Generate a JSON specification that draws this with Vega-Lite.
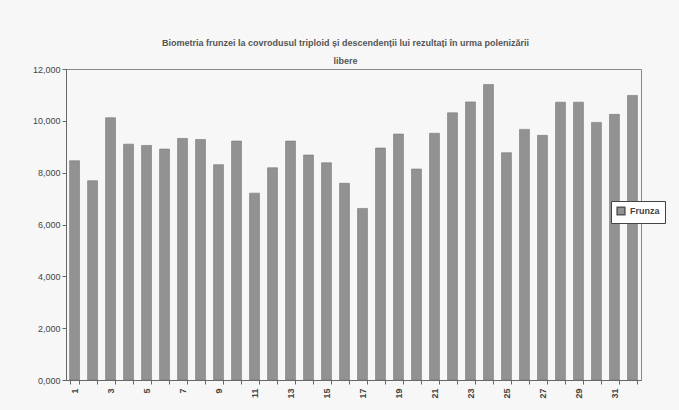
{
  "$schema": "https://vega.github.io/schema/vega-lite/v6.json",
  "autosize": {"type": "none"},
  "width": 575,
  "height": 311,
  "padding": {"left": 66, "top": 69, "right": 38, "bottom": 30},
  "background": "#f7f7f7",
  "title": {
    "text": ["Biometria frunzei la covrodusul triploid și descendenții lui rezultați în urma polenizării", "libere"],
    "fontSize": 9,
    "fontWeight": "bold",
    "font": "Liberation Sans",
    "color": "#555555",
    "anchor": "middle",
    "dx": -8,
    "offset": -1,
    "lineHeight": 18
  },
  "data": {
    "values": [
      {"n": 1, "v": 8.46}, {"n": 2, "v": 7.69}, {"n": 3, "v": 10.12}, {"n": 4, "v": 9.10},
      {"n": 5, "v": 9.05}, {"n": 6, "v": 8.91}, {"n": 7, "v": 9.32}, {"n": 8, "v": 9.28},
      {"n": 9, "v": 8.31}, {"n": 10, "v": 9.22}, {"n": 11, "v": 7.21}, {"n": 12, "v": 8.19},
      {"n": 13, "v": 9.22}, {"n": 14, "v": 8.68}, {"n": 15, "v": 8.38}, {"n": 16, "v": 7.59},
      {"n": 17, "v": 6.62}, {"n": 18, "v": 8.95}, {"n": 19, "v": 9.49}, {"n": 20, "v": 8.14},
      {"n": 21, "v": 9.52}, {"n": 22, "v": 10.31}, {"n": 23, "v": 10.73}, {"n": 24, "v": 11.40},
      {"n": 25, "v": 8.77}, {"n": 26, "v": 9.67}, {"n": 27, "v": 9.44}, {"n": 28, "v": 10.72},
      {"n": 29, "v": 10.72}, {"n": 30, "v": 9.94}, {"n": 31, "v": 10.25}, {"n": 32, "v": 10.98}
    ]
  },
  "mark": {"type": "bar", "stroke": "#777777", "strokeWidth": 0.6},
  "encoding": {
    "x": {
      "field": "n",
      "type": "ordinal",
      "title": null,
      "scale": {"paddingInner": 0.45, "paddingOuter": 0.2},
      "axis": {
        "labelAngle": -90,
        "labelExpr": "datum.value % 2 == 1 ? datum.label : ''",
        "labelFontSize": 9,
        "labelColor": "#444444",
        "labelFont": "Liberation Sans",
        "labelFontWeight": "bold",
        "labelPadding": 4,
        "tickBand": "extent",
        "tickSize": 4,
        "domainColor": "#666666",
        "tickColor": "#666666"
      }
    },
    "y": {
      "field": "v",
      "type": "quantitative",
      "title": null,
      "scale": {"domain": [0, 12]},
      "axis": {
        "values": [0, 2, 4, 6, 8, 10, 12],
        "format": ".3f",
        "grid": false,
        "labelFontSize": 9,
        "labelColor": "#444444",
        "labelFont": "Liberation Sans",
        "tickSize": 4,
        "domainColor": "#666666",
        "tickColor": "#666666"
      }
    },
    "color": {
      "datum": "Frunza",
      "scale": {"range": ["#929292"]},
      "legend": {
        "title": null,
        "orient": "none",
        "legendX": 545,
        "legendY": 132,
        "strokeColor": "#444444",
        "fillColor": "#ffffff",
        "padding": 5,
        "symbolType": "square",
        "symbolSize": 60,
        "symbolStrokeColor": "#555555",
        "labelFontSize": 9,
        "labelFontWeight": "bold",
        "labelFont": "Liberation Sans",
        "labelColor": "#444444"
      }
    }
  },
  "config": {
    "locale": {"number": {"decimal": ",", "thousands": ".", "grouping": [3], "currency": ["", ""]}},
    "view": {"stroke": "#888888", "strokeWidth": 1}
  }
}
